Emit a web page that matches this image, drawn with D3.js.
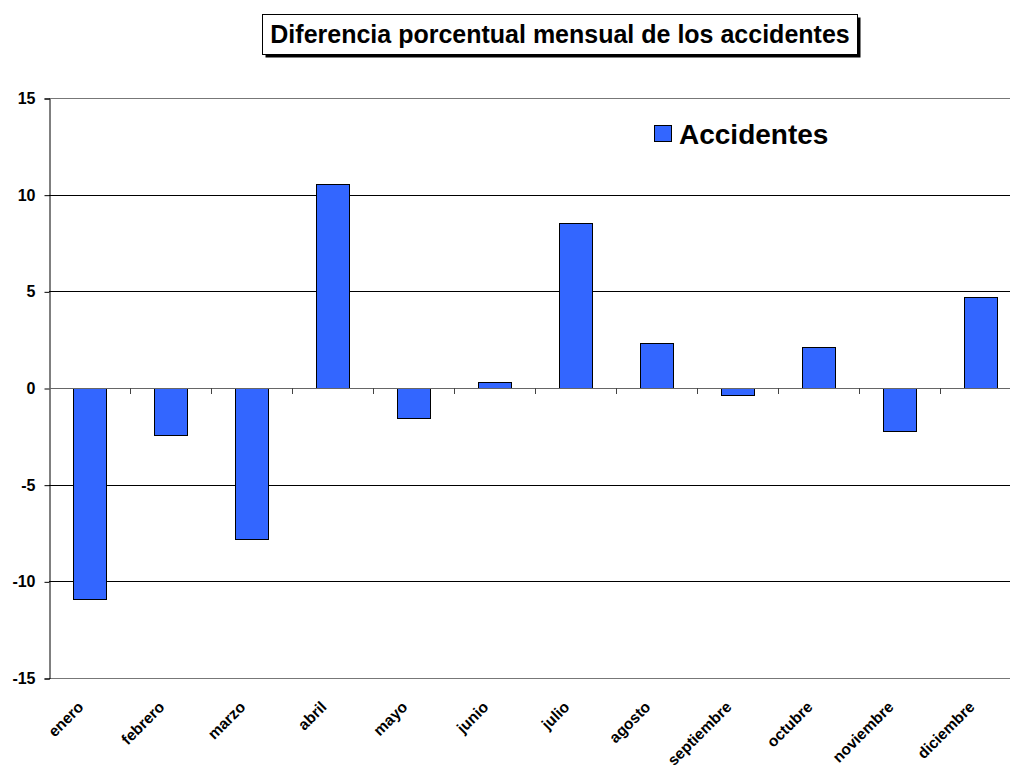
<!DOCTYPE html>
<html>
<head>
<meta charset="utf-8">
<script src="https://cdn.jsdelivr.net/npm/d3@7"></script>
<style>
  body { margin: 0; background: #fff; }
  text { font-family: Arial, "Liberation Sans", sans-serif; font-weight: bold; }
</style>
</head>
<body>
<svg id="chart" width="1010" height="769"></svg>
<script>
let months = ['enero', 'febrero', 'marzo', 'abril', 'mayo', 'junio', 'julio',
    'agosto', 'septiembre', 'octubre', 'noviembre', 'diciembre'];
let accidentes = [-10.9, -2.45, -7.8, 10.55, -1.55, 0.3, 8.55, 2.35, -0.35, 2.1, -2.2, 4.7];
let yTicks = [-15, -10, -5, 0, 5, 10, 15];

let svg = d3.select('#chart');

let plotLeft = 49, plotRight = 1021, plotTop = 98, plotBottom = 678;

let x = d3.scaleBand()
    .domain(months)
    .range([plotLeft, plotRight])
    .paddingInner(0.59)
    .paddingOuter(0.295);

let y = d3.scaleLinear()
    .domain([-15, 15])
    .range([plotBottom, plotTop]);

// gridlines
svg.append('g')
    .selectAll('line')
    .data(yTicks.filter(d => d !== 0))
    .enter()
    .append('line')
    .attr('x1', plotLeft)
    .attr('x2', plotRight)
    .attr('y1', d => Math.round(y(d)) + 0.5)
    .attr('y2', d => Math.round(y(d)) + 0.5)
    .attr('stroke', d => (d === 15 || d === -15) ? '#777' : '#000')
    .attr('stroke-width', 1);

// bars
svg.append('g')
    .selectAll('rect')
    .data(accidentes)
    .enter()
    .append('rect')
    .attr('x', (d, i) => Math.round(x(months[i])) + 0.5)
    .attr('y', d => Math.round(y(Math.max(0, d))) + 0.5)
    .attr('width', Math.round(x.bandwidth()))
    .attr('height', d => Math.round(Math.abs(y(d) - y(0))))
    .attr('fill', '#3366FF')
    .attr('stroke', '#000')
    .attr('stroke-width', 1);

// y axis
let yAxis = svg.append('g')
    .attr('transform', 'translate(' + (plotLeft + 0.5) + ',0.5)')
    .call(d3.axisLeft(y).tickValues(yTicks).tickFormat(d => String(d)).tickSize(5).tickPadding(9));
yAxis.select('.domain').attr('stroke', '#000');
yAxis.selectAll('.tick line').attr('stroke', '#000');
yAxis.selectAll('.tick text')
    .attr('font-size', '16px')
    .attr('font-family', 'Arial, "Liberation Sans", sans-serif')
    .attr('font-weight', 'bold')
    .attr('fill', '#000');

// zero line with category ticks
let boundaries = d3.range(1, months.length).map(i => plotLeft + i * x.step());
svg.append('line')
    .attr('x1', plotLeft)
    .attr('x2', plotRight)
    .attr('y1', Math.round(y(0)) + 0.5)
    .attr('y2', Math.round(y(0)) + 0.5)
    .attr('stroke', '#666');
svg.append('g')
    .selectAll('line')
    .data(boundaries)
    .enter()
    .append('line')
    .attr('x1', d => Math.round(d) + 0.5)
    .attr('x2', d => Math.round(d) + 0.5)
    .attr('y1', Math.round(y(0)))
    .attr('y2', Math.round(y(0)) + 6)
    .attr('stroke', '#444');

// x labels
svg.append('g')
    .selectAll('text')
    .data(months)
    .enter()
    .append('text')
    .attr('text-anchor', 'end')
    .attr('font-size', '15.5px')
    .attr('transform', d => 'translate(' + (x(d) + x.bandwidth() / 2 - 5) + ',708) rotate(-45)')
    .text(d => d);

// title box
let title = svg.append('g');
title.append('rect')
    .attr('x', 265.5).attr('y', 17.5)
    .attr('width', 595).attr('height', 40)
    .attr('fill', '#000');
title.append('rect')
    .attr('x', 262.5).attr('y', 14.5)
    .attr('width', 595).attr('height', 40)
    .attr('fill', '#fff')
    .attr('stroke', '#000');
title.append('text')
    .attr('x', 560)
    .attr('y', 43)
    .attr('text-anchor', 'middle')
    .attr('font-size', '25px')
    .text('Diferencia porcentual mensual de los accidentes');

// legend
let legend = svg.append('g');
legend.append('rect')
    .attr('x', 654.5).attr('y', 125.5)
    .attr('width', 17).attr('height', 16)
    .attr('fill', '#3366FF')
    .attr('stroke', '#000');
legend.append('text')
    .attr('x', 679)
    .attr('y', 144)
    .attr('font-size', '28px')
    .text('Accidentes');
</script>
</body>
</html>
